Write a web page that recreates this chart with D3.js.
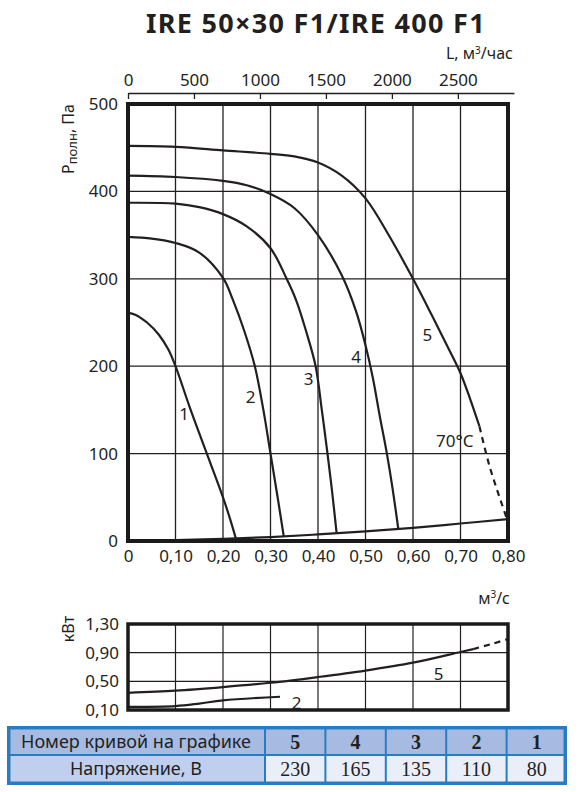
<!DOCTYPE html>
<html>
<head>
<meta charset="utf-8">
<script src="https://cdn.jsdelivr.net/npm/d3@7"></script>
<style>
  body { margin: 0; background: #fff; }
  text { font-family: "Noto Sans", sans-serif; fill: #231f20; }
</style>
</head>
<body>
<svg width="578" height="792"></svg>
<script>
// ---- data ----
var qTicks = [0, 0.1, 0.2, 0.3, 0.4, 0.5, 0.6, 0.7, 0.8];
var pTicks = [0, 100, 200, 300, 400, 500];
var flowTicks = [0, 500, 1000, 1500, 2000, 2500];
var kwTicks = [0.1, 0.5, 0.9, 1.3];

// pressure curves, [m3/s, Pa]
var curve1 = [[0, 261], [0.015, 259], [0.04, 250], [0.065, 236], [0.085, 219], [0.1, 200],
  [0.13, 153], [0.166, 100], [0.2, 50], [0.215, 25], [0.227, 3]];
var curve2 = [[0, 348], [0.05, 346], [0.1, 341], [0.15, 330], [0.2, 301], [0.22, 277],
  [0.245, 240], [0.267, 200], [0.285, 150], [0.3, 100], [0.315, 50], [0.328, 5]];
var curve3 = [[0, 387], [0.1, 386], [0.15, 382], [0.2, 374], [0.25, 360], [0.3, 335],
  [0.334, 300], [0.355, 274], [0.375, 240], [0.395, 200], [0.408, 150], [0.42, 100],
  [0.43, 55], [0.439, 10]];
var curve4 = [[0, 418], [0.1, 416.5], [0.2, 412], [0.25, 407], [0.3, 397], [0.35, 381],
  [0.4, 350], [0.45, 304], [0.48, 263], [0.5, 224], [0.515, 188], [0.53, 143],
  [0.545, 100], [0.557, 60], [0.569, 14]];
var curve5 = [[0, 452], [0.1, 451], [0.2, 447], [0.3, 443], [0.35, 440], [0.4, 433],
  [0.45, 418], [0.5, 392], [0.55, 349], [0.6, 300], [0.64, 258], [0.675, 220],
  [0.7, 192], [0.72, 163], [0.74, 131]];
var curve5hot = [[0.74, 131], [0.762, 84], [0.798, 25]];
var network = [[0, 0], [0.1, 1], [0.2, 2.5], [0.3, 4.5], [0.4, 7.5], [0.5, 11],
  [0.6, 15], [0.7, 20], [0.8, 25]];

// power curves, [m3/s, kW]
var power5 = [[0, 0.34], [0.1, 0.37], [0.2, 0.42], [0.3, 0.48], [0.4, 0.56],
  [0.5, 0.65], [0.6, 0.76], [0.7, 0.91], [0.727, 0.95]];
var power5hot = [[0.727, 0.95], [0.765, 1.02], [0.8, 1.09]];
var power2 = [[0, 0.145], [0.1, 0.155], [0.15, 0.19], [0.2, 0.235], [0.32, 0.285]];

// table
var curveNums = ["5", "4", "3", "2", "1"];
var voltages = ["230", "165", "135", "110", "80"];

var svg = d3.select("svg");
var comma = function (v) { return v === 0 ? "0" : d3.format(".2f")(v).replace(".", ","); };

// ---- title ----
svg.append("text")
  .attr("x", 316).attr("y", 33)
  .attr("text-anchor", "middle")
  .style("font-size", "27px").style("font-weight", "bold")
  .style("letter-spacing", "1.3px")
  .text("IRE 50×30 F1/IRE 400 F1");

// ---- main chart ----
var x = d3.scaleLinear().domain([0, 0.8]).range([128, 508]);
var y = d3.scaleLinear().domain([0, 500]).range([541, 104]);
var xFlow = d3.scaleLinear().domain([0, 2925]).range([128, 128 + 380 * 2925 / 2880]);

var g = svg.append("g");

g.selectAll(".vgrid")
  .data(qTicks.slice(1, -1))
  .enter().append("line")
  .attr("x1", function (d) { return x(d); }).attr("x2", function (d) { return x(d); })
  .attr("y1", y(0)).attr("y2", y(500))
  .attr("stroke", "#231f20").attr("stroke-width", 1.3);

g.selectAll(".hgrid")
  .data(pTicks.slice(1, -1))
  .enter().append("line")
  .attr("x1", x(0)).attr("x2", x(0.8))
  .attr("y1", function (d) { return y(d); }).attr("y2", function (d) { return y(d); })
  .attr("stroke", "#231f20").attr("stroke-width", 1.3);

var line = d3.line()
  .x(function (d) { return x(d[0]); })
  .y(function (d) { return y(d[1]); })
  .curve(d3.curveCatmullRom.alpha(0.5));

[curve1, curve2, curve3, curve4, curve5, network].forEach(function (c) {
  g.append("path").attr("d", line(c))
    .attr("fill", "none").attr("stroke", "#231f20").attr("stroke-width", 2.2);
});
g.append("path").attr("d", line(curve5hot))
  .attr("fill", "none").attr("stroke", "#231f20").attr("stroke-width", 2.2)
  .attr("stroke-dasharray", "6,5");

g.append("rect")
  .attr("x", x(0)).attr("y", y(500))
  .attr("width", x(0.8) - x(0)).attr("height", y(0) - y(500))
  .attr("fill", "none").attr("stroke", "#1a1a1a").attr("stroke-width", 4);

// curve numbers
var curveLabels = [
  { t: "1", q: 0.118, p: 145 },
  { t: "2", q: 0.258, p: 165 },
  { t: "3", q: 0.38, p: 185 },
  { t: "4", q: 0.48, p: 210 },
  { t: "5", q: 0.63, p: 236 }
];
g.selectAll(".clab")
  .data(curveLabels)
  .enter().append("text")
  .attr("x", function (d) { return x(d.q); })
  .attr("y", function (d) { return y(d.p); })
  .attr("text-anchor", "middle").attr("dy", "0.35em")
  .style("font-size", "17px")
  .text(function (d) { return d.t; });

g.append("text")
  .attr("x", x(0.688)).attr("y", y(114))
  .attr("text-anchor", "middle").attr("dy", "0.35em")
  .style("font-size", "17px")
  .text("70°C");

// axes
var topAxis = g.append("g")
  .attr("transform", "translate(0,93)")
  .call(d3.axisTop(xFlow).tickValues(flowTicks).tickFormat(d3.format("d"))
    .tickSizeInner(-6).tickSizeOuter(0).tickPadding(7));
topAxis.select(".domain").attr("stroke", "#231f20").attr("stroke-width", 1.3);
topAxis.selectAll(".tick line").attr("stroke", "#231f20").attr("stroke-width", 1.3);
topAxis.selectAll("text").style("font-size", "17px").attr("fill", "#231f20");

var leftAxis = g.append("g")
  .attr("transform", "translate(" + x(0) + ",0)")
  .call(d3.axisLeft(y).tickValues(pTicks).tickSize(0).tickPadding(10));
leftAxis.select(".domain").remove();
leftAxis.selectAll("text").style("font-size", "17px").attr("fill", "#231f20");

var bottomAxis = g.append("g")
  .attr("transform", "translate(0," + y(0) + ")")
  .call(d3.axisBottom(x).tickValues(qTicks).tickFormat(comma).tickSize(0).tickPadding(9));
bottomAxis.select(".domain").remove();
bottomAxis.selectAll("text").style("font-size", "17px").attr("fill", "#231f20");

svg.append("text")
  .attr("x", 513).attr("y", 59).attr("text-anchor", "end")
  .style("font-size", "16px")
  .html('L, м<tspan dy="-5" style="font-size:10px">3</tspan><tspan dy="5">/час</tspan>');

svg.append("text")
  .attr("transform", "translate(74,139) rotate(-90)")
  .attr("text-anchor", "middle")
  .style("font-size", "16px")
  .html('Р<tspan dy="3" style="font-size:13px">полн</tspan><tspan dy="-3">, Па</tspan>');

svg.append("text")
  .attr("x", 510).attr("y", 604).attr("text-anchor", "end")
  .style("font-size", "16px")
  .html('м<tspan dy="-6" style="font-size:10px">3</tspan><tspan dy="6">/с</tspan>');

// ---- power chart ----
var yk = d3.scaleLinear().domain([0.1, 1.3]).range([710, 624]);
var k = svg.append("g");

k.selectAll(".vgrid")
  .data(qTicks.slice(1, -1))
  .enter().append("line")
  .attr("x1", function (d) { return x(d); }).attr("x2", function (d) { return x(d); })
  .attr("y1", yk(0.1)).attr("y2", yk(1.3))
  .attr("stroke", "#231f20").attr("stroke-width", 1.2);

k.selectAll(".hgrid")
  .data(kwTicks.slice(1, -1))
  .enter().append("line")
  .attr("x1", x(0)).attr("x2", x(0.8))
  .attr("y1", function (d) { return yk(d); }).attr("y2", function (d) { return yk(d); })
  .attr("stroke", "#231f20").attr("stroke-width", 1.2);

var kline = d3.line()
  .x(function (d) { return x(d[0]); })
  .y(function (d) { return yk(d[1]); })
  .curve(d3.curveCatmullRom.alpha(0.5));

[power5, power2].forEach(function (c) {
  k.append("path").attr("d", kline(c))
    .attr("fill", "none").attr("stroke", "#231f20").attr("stroke-width", 2.2);
});
k.append("path").attr("d", kline(power5hot))
  .attr("fill", "none").attr("stroke", "#231f20").attr("stroke-width", 2.2)
  .attr("stroke-dasharray", "6,5");

k.append("rect")
  .attr("x", x(0)).attr("y", yk(1.3))
  .attr("width", x(0.8) - x(0)).attr("height", yk(0.1) - yk(1.3))
  .attr("fill", "none").attr("stroke", "#1a1a1a").attr("stroke-width", 3.5);

var kAxis = k.append("g")
  .attr("transform", "translate(" + x(0) + ",0)")
  .call(d3.axisLeft(yk).tickValues(kwTicks).tickFormat(comma).tickSize(0).tickPadding(9));
kAxis.select(".domain").remove();
kAxis.selectAll("text").style("font-size", "17px").attr("fill", "#231f20");

k.append("text").attr("x", x(0.654)).attr("y", yk(0.6)).attr("dy", "0.35em")
  .attr("text-anchor", "middle").style("font-size", "17px").text("5");
k.append("text").attr("x", x(0.355)).attr("y", yk(0.2)).attr("dy", "0.35em")
  .attr("text-anchor", "middle").style("font-size", "17px").text("2");

svg.append("text")
  .attr("transform", "translate(74,629) rotate(-90)")
  .attr("text-anchor", "middle")
  .style("font-size", "16px")
  .text("кВт");

// ---- table ----
var tTop = 726, tMid = 755, tBot = 785, tLeft = 7, tRight = 567, firstCol = 265;
var col = d3.scaleBand().domain(curveNums).range([firstCol, tRight]);
var blue = "#2a7cc2";
var t = svg.append("g");

t.append("rect").attr("x", tLeft).attr("y", tTop)
  .attr("width", tRight - tLeft).attr("height", tBot - tTop).attr("fill", blue);

// first column
t.append("rect").attr("x", tLeft + 3.5).attr("y", tTop + 3.5)
  .attr("width", firstCol - tLeft - 4.5).attr("height", tMid - tTop - 4.5).attr("fill", "#a7bbe2");
t.append("rect").attr("x", tLeft + 3.5).attr("y", tMid + 1)
  .attr("width", firstCol - tLeft - 4.5).attr("height", tBot - tMid - 4.5).attr("fill", "#c1cfee");

t.selectAll(".hcell").data(curveNums).enter().append("rect")
  .attr("x", function (d) { return col(d) + 1; })
  .attr("y", tTop + 3.5)
  .attr("width", function (d, i) { return col.bandwidth() - (i === curveNums.length - 1 ? 4.5 : 2); })
  .attr("height", tMid - tTop - 4.5)
  .attr("fill", "#a7bbe2");

t.selectAll(".vcell").data(curveNums).enter().append("rect")
  .attr("x", function (d) { return col(d) + 1; })
  .attr("y", tMid + 1)
  .attr("width", function (d, i) { return col.bandwidth() - (i === curveNums.length - 1 ? 4.5 : 2); })
  .attr("height", tBot - tMid - 4.5)
  .attr("fill", "#e9eef9");

t.append("text").attr("x", (tLeft + firstCol) / 2).attr("y", (tTop + tMid) / 2 + 1)
  .attr("dy", "0.35em").attr("text-anchor", "middle")
  .style("font-size", "18px").text("Номер кривой на графике");
t.append("text").attr("x", (tLeft + firstCol) / 2).attr("y", (tMid + tBot) / 2 - 1)
  .attr("dy", "0.35em").attr("text-anchor", "middle")
  .style("font-size", "18px").text("Напряжение, В");

t.selectAll(".num").data(curveNums).enter().append("text")
  .attr("x", function (d) { return col(d) + col.bandwidth() / 2; })
  .attr("y", (tTop + tMid) / 2 + 1).attr("dy", "0.35em").attr("text-anchor", "middle")
  .style("font-family", "'Liberation Serif', serif").style("font-weight", "bold")
  .style("font-size", "20px")
  .text(function (d) { return d; });

t.selectAll(".volt").data(voltages).enter().append("text")
  .attr("x", function (d, i) { return col(curveNums[i]) + col.bandwidth() / 2; })
  .attr("y", (tMid + tBot) / 2 - 1).attr("dy", "0.35em").attr("text-anchor", "middle")
  .style("font-family", "'Liberation Serif', serif")
  .style("font-size", "20px")
  .text(function (d) { return d; });
</script>
</body>
</html>
